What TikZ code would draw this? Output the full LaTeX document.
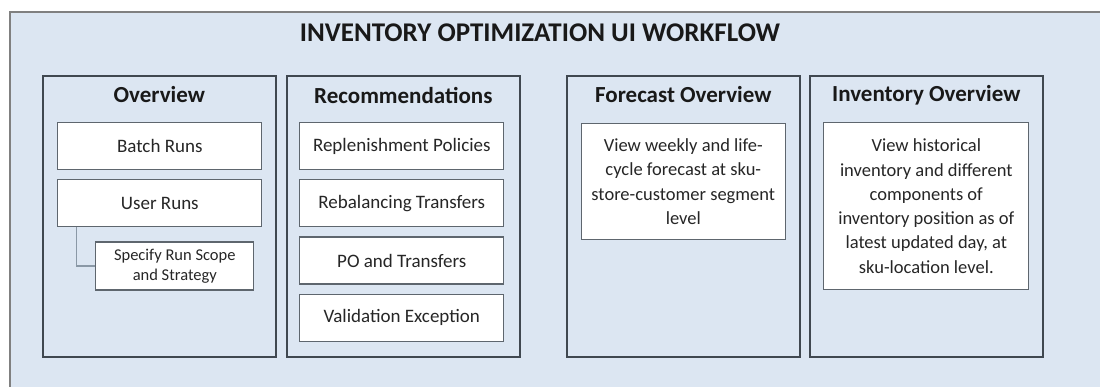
\documentclass[tikz,border=0pt]{standalone}
\usepackage{fontspec}
\setmainfont{Carlito}
\usetikzlibrary{%
  positioning
 ,calc
}
\definecolor{bgblue}{HTML}{DCE6F2}
\definecolor{colline}{HTML}{404850}
\definecolor{boxline}{HTML}{5E666E}
\definecolor{connline}{HTML}{8A98A6}
\tikzstyle{col}=[draw=colline,line width=1.6pt,fill=bgblue,minimum width=233pt,minimum height=281pt,anchor=north west,inner sep=0pt]
\tikzstyle{hd}=[font=\fontsize{23}{27}\selectfont\bfseries,text=black!90]
\tikzstyle{item}=[draw=boxline,line width=1.2pt,fill=white,minimum width=204pt,minimum height=47pt,inner sep=2pt,font=\fontsize{19}{23}\selectfont,text=black!85]
\tikzstyle{txt}=[item,align=center,font=\fontsize{18.5}{24.3}\selectfont]
\tikzstyle{conn}=[draw=connline,line width=1.4pt]

\begin{document}
\begin{tikzpicture}[x=1pt,y=-1pt]
  \useasboundingbox (0,0) rectangle (1100,386);
  \clip (0,0) rectangle (1100,386);
  \draw[fill=bgblue,draw=gray,line width=1.5pt] (10,12) rectangle (1120,400);
  \node[font=\fontsize{27}{31}\selectfont\bfseries,text=black!90] (title) at (540,33) {INVENTORY OPTIMIZATION UI WORKFLOW};
% columns
  \node[col] (c_ov) at (42,75) {};
  \node[col] (c_rec) at (286,75) {};
  \node[col] (c_fc) at (566,75) {};
  \node[col] (c_inv) at (809,75) {};
  \node[hd] (h_ov) at ($(c_ov.north)+(0,20)$) {Overview};
  \node[hd] (h_rec) at ($(c_rec.north)+(0,20)$) {Recommendations};
  \node[hd] (h_fc) at ($(c_fc.north)+(0,20)$) {Forecast Overview};
  \node[hd] (h_inv) at ($(c_inv.north)+(0,20)$) {Inventory Overview};
% overview
  \node[item,anchor=north] (batch) at ($(c_ov.north)+(0.5,47)$) {Batch Runs};
  \node[item,below=9pt of batch] (user) {User Runs};
  \node[item,font=\fontsize{16.5}{20}\selectfont,align=center,minimum width=158pt,minimum height=48pt,anchor=north west] (spec) at ($(user.south west)+(38,14)$) {Specify Run Scope\\and Strategy};
  \draw[conn] ([xshift=19pt]user.south west) |- (spec);
% recommendations
  \node[item,anchor=north] (repl) at ($(c_rec.north)+(-1.5,47)$) {Replenishment Policies};
  \node[item,below=9pt of repl] (rebal) {Rebalancing Transfers};
  \node[item,below=9pt of rebal] (po) {PO and Transfers};
  \node[item,below=9pt of po] (valid) {Validation Exception};
% forecast
  \node[txt,anchor=north,minimum height=116pt] (fc_box) at ($(c_fc.north)+(0,48)$)
    {View weekly and life-\\cycle forecast at sku-\\store-customer segment\\level};
% inventory
  \node[txt,anchor=north,minimum width=205pt,minimum height=167pt] (inv_box) at ($(c_inv.north)+(0,47)$)
    {View historical\\inventory and different\\components of\\inventory position as of\\latest updated day, at\\sku-location level.};
\end{tikzpicture}
\end{document}
